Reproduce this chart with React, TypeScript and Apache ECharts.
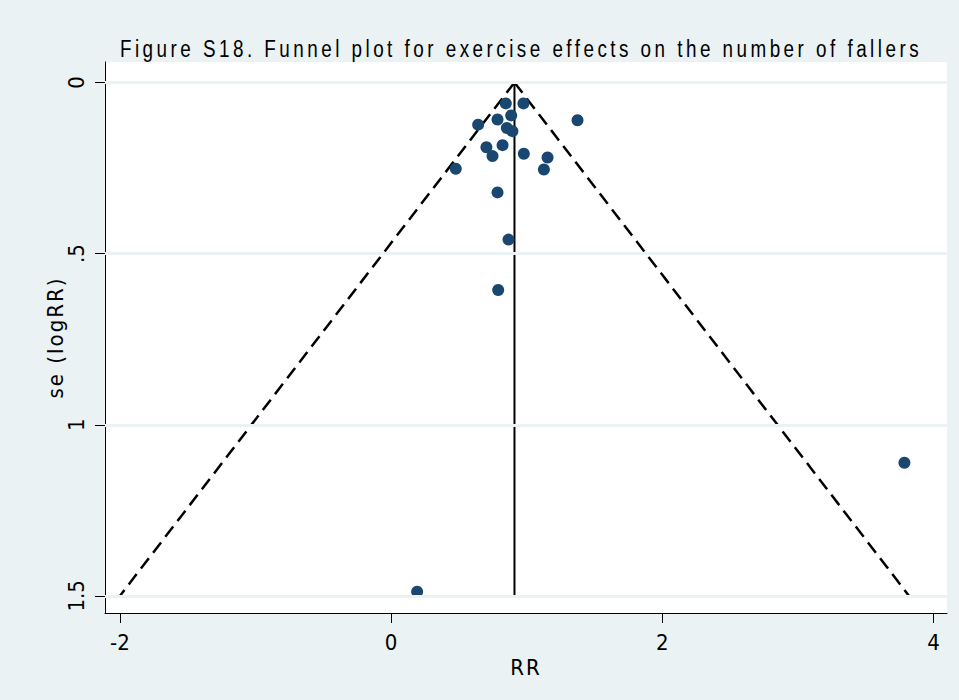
import React, { useEffect, useRef } from "react";
import * as echarts from "echarts";

// Study estimates: relative risk (x) and standard error of log RR (y)
const studyRR = [0.846, 0.976, 0.886, 0.785, 0.642, 1.375, 0.854, 0.895, 0.703, 0.822, 0.748, 0.979, 1.154, 1.127, 0.477, 0.785, 0.866, 0.79, 0.192, 3.786];
const studySE = [0.061, 0.061, 0.096, 0.108, 0.123, 0.11, 0.133, 0.142, 0.189, 0.183, 0.215, 0.208, 0.219, 0.254, 0.252, 0.321, 0.459, 0.606, 1.488, 1.111];

// Pooled estimate and pseudo 95% confidence limits of the funnel
const pooledRR = 0.91;
const funnelBaseSE = 1.5;
const funnelLowerRR = -2.0;
const funnelUpperRR = 3.82;
const pooledSE = [0, 1.5];

const xTicks = [-2, 0, 2, 4];
const xTickLabels = ["-2", "0", "2", "4"];
const yTicks = [0, 0.5, 1, 1.5];
const yTickLabels = ["0", ".5", "1", "1.5"];

const TITLE = "Figure S18. Funnel plot for exercise effects on the number of fallers";
const X_NAME = "RR";
const Y_NAME = "se (logRR)";

const FONT = "'DejaVu Sans Condensed', 'Liberation Sans', Arial, sans-serif";
const TITLE_FONT = "'Liberation Sans', Arial, sans-serif";
const TITLE_SCALE = 0.82;
const TITLE_WIDTH = 802;
const BG = "#EAF2F3";

export default function App() {
  const ref = useRef<HTMLDivElement>(null);

  useEffect(() => {
    document.body.style.margin = "0";
    const el = ref.current;
    if (!el) return;
    const chart = echarts.init(el, undefined, { renderer: "svg" });

    const labelFor = (ticks: number[], labels: string[]) => (v: number) => {
      const i = ticks.findIndex((t) => Math.abs(t - v) < 1e-9);
      return i >= 0 ? labels[i] : "";
    };

    // each confidence limit is drawn from the apex down, so the dashes start at the tip
    const limitLine = (baseRR: number) => ({
      type: "line",
      data: [
        [pooledRR, 0],
        [baseRR, funnelBaseSE],
      ],
      showSymbol: false,
      symbol: "none",
      z: 2,
      lineStyle: { color: "#000", width: 2.5, type: [13, 7] },
      silent: true,
    });

    chart.setOption({
      animation: false,
      backgroundColor: BG,
      graphic: [
        {
          type: "text",
          id: "title",
          x: 521,
          y: 49,
          scaleX: TITLE_SCALE,
          scaleY: 1,
          style: {
            text: TITLE,
            fill: "#000",
            font: `23px ${TITLE_FONT}`,
            textAlign: "center",
            textVerticalAlign: "middle",
          },
        },
      ],
      grid: {
        left: 105,
        right: 12,
        top: 62,
        bottom: 87,
        show: true,
        backgroundColor: "#fff",
        borderWidth: 0,
      },
      xAxis: {
        type: "value",
        min: -2.11,
        max: 4.1,
        name: X_NAME,
        nameLocation: "middle",
        nameMoveOverlap: false,
        nameGap: 43,
        nameTextStyle: { fontFamily: FONT, fontSize: 22, color: "#000", verticalAlign: "top" },
        axisLine: { show: true, onZero: false, lineStyle: { color: "#000", width: 1 } },
        axisTick: { show: true, length: 10, customValues: xTicks, lineStyle: { color: "#000" } },
        axisLabel: {
          customValues: xTicks,
          formatter: labelFor(xTicks, xTickLabels),
          margin: 18,
          fontFamily: FONT,
          fontSize: 22,
          color: "#000",
        },
        splitLine: { show: false },
      },
      yAxis: {
        type: "value",
        inverse: true,
        min: -0.06,
        max: 1.55,
        name: Y_NAME,
        nameLocation: "middle",
        nameMoveOverlap: false,
        nameRotate: 90,
        nameGap: 39,
        nameTextStyle: { fontFamily: FONT, fontSize: 22, color: "#000", verticalAlign: "bottom" },
        axisLine: { show: true, onZero: false, lineStyle: { color: "#000", width: 1 } },
        axisTick: { show: true, length: 10, customValues: yTicks, lineStyle: { color: "#000" } },
        axisLabel: {
          customValues: yTicks,
          formatter: labelFor(yTicks, yTickLabels),
          rotate: 90,
          margin: 18,
          fontFamily: FONT,
          fontSize: 22,
          color: "#000",
        },
        splitLine: { show: false },
      },
      series: [
        {
          // horizontal grid lines at the labelled se values
          type: "line",
          data: [],
          z: 1,
          silent: true,
          markLine: {
            silent: true,
            symbol: "none",
            label: { show: false },
            lineStyle: { color: BG, width: 3, type: "solid" },
            data: yTicks.map((v) => ({ yAxis: v })),
          },
        },
        limitLine(funnelLowerRR),
        limitLine(funnelUpperRR),
        {
          // pooled estimate
          type: "line",
          data: pooledSE.map((s) => [pooledRR, s]),
          showSymbol: false,
          symbol: "none",
          z: 3,
          lineStyle: { color: "#000", width: 2, type: "solid" },
          silent: true,
        },
        {
          type: "scatter",
          data: studyRR.map((x, i) => [x, studySE[i]]),
          symbol: "circle",
          symbolSize: 12,
          z: 4,
          itemStyle: { color: "#1A476F", opacity: 1 },
        },
      ],
    });

    // Stata-style letter spacing on the titles
    const svg = el.querySelector("svg");
    if (svg) {
      svg.querySelectorAll("text").forEach((t) => {
        const s = t.textContent || "";
        if (s === TITLE) {
          const len = (t as SVGTextElement).getComputedTextLength();
          const sp = Math.max(0, (TITLE_WIDTH / TITLE_SCALE - len) / s.length);
          t.setAttribute("letter-spacing", sp.toFixed(2));
        } else if (s === X_NAME || s === Y_NAME) {
          t.setAttribute("letter-spacing", "2");
        }
      });
    }

    return () => chart.dispose();
  }, []);

  return <div ref={ref} style={{ width: 959, height: 700 }} />;
}
